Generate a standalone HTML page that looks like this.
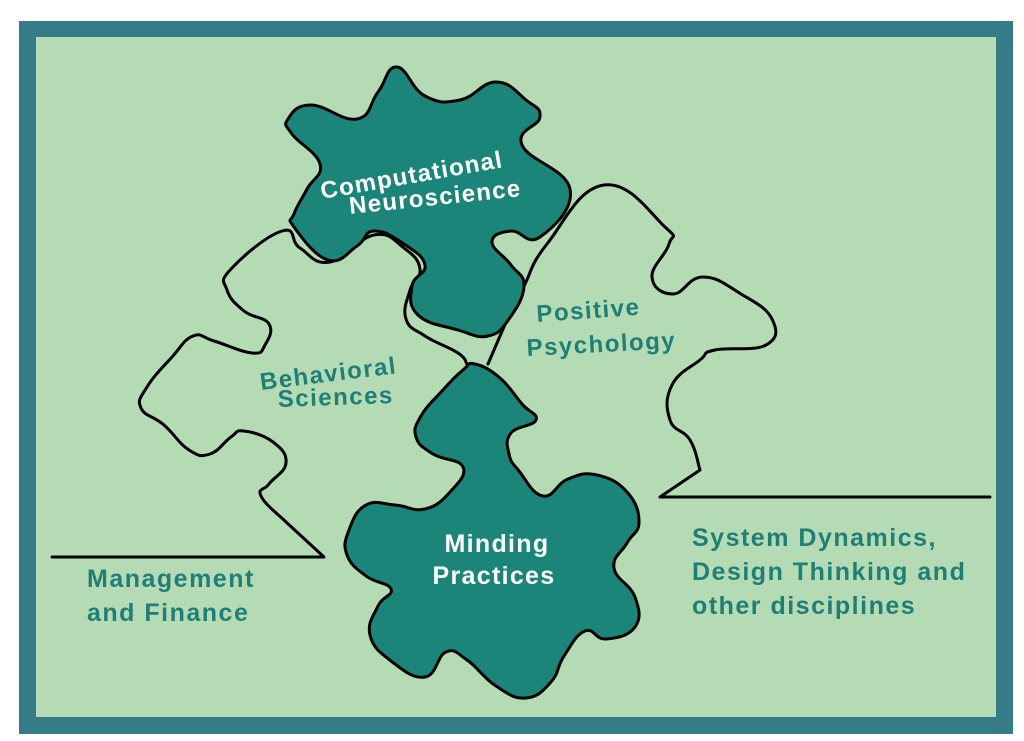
<!DOCTYPE html>
<html><head><meta charset="utf-8"><style>
html,body{margin:0;padding:0;background:#fff;}
svg{display:block}
text{font-family:"Liberation Sans",sans-serif;font-weight:bold;}
</style></head><body>
<svg id="s" width="1024" height="741" viewBox="0 0 1024 741">
<rect x="19" y="21" width="994" height="713" fill="#367c88"/>
<rect x="36" y="37" width="960" height="680" fill="#b5dbb5"/>
<g fill="none" stroke="#000" stroke-width="3" stroke-linejoin="round" stroke-linecap="round">
<polyline class="sm st2" points="52,557 324,557 286,522 261,496 269,484 286,463 273,442 244,431 231,437 210,454 189,450 164,425 141,408 147,387 172,357 193,336 214,341 252,353 265,345 269,324 244,311 227,290 231,269 282,231 300,248 330,262 374,235 404,248 420,269 410,290 406,319 425,336 458,353 467,364"/>
<polyline class="sm en2" points="488,364 511,311 524,286 547,244 604,185 665,227 669,244 652,277 673,294 703,277 741,294 772,319 766,345 715,350 700,360 672,385 670,420 690,440 700,470 660,497 990,497"/>
</g>
<polygon class="sm" points="397,67 425,96 460,100 496,82 526,100 540,117 522,145 570,189 540,237 511,231 492,242 511,265 524,286 509,319 488,336 458,330 418,315 412,286 425,265 404,244 374,231 357,246 328,260 294,227 294,214 307,189 320,164 292,134 288,119 311,105 357,119 378,92"
 fill="#1c857a" stroke="#000" stroke-width="3" stroke-linejoin="round"/>
<polygon class="sm" points="475,364 500,378 522,404 536,420 511,433 509,454 519,471 543,496 568,479 597,475 627,492 639,522 627,543 614,568 635,597 635,627 606,639 585,631 564,656 551,682 526,698 496,686 467,660 446,652 425,677 391,661 370,635 378,606 391,589 366,576 347,555 349,530 366,505 395,505 425,509 450,492 463,467 433,454 416,437 421,416 442,391 463,370"
 fill="#1c857a" stroke="#000" stroke-width="3" stroke-linejoin="round"/>
<g fill="#fff" font-size="24" text-anchor="middle" letter-spacing="1.3">
<text transform="translate(413,183) rotate(-10)">Computational</text>
<text transform="translate(436,205) rotate(-6)">Neuroscience</text>
<text x="497" y="552" font-size="25">Minding</text>
<text x="494" y="584" font-size="25">Practices</text>
</g>
<g fill="#1f7f77" font-size="24" letter-spacing="1.5">
<text transform="translate(261,390) rotate(-7)">Behavioral</text>
<text transform="translate(278,407) rotate(-2)">Sciences</text>
<text transform="translate(537,322) rotate(-4)">Positive</text>
<text transform="translate(527,356) rotate(-3)">Psychology</text>
<g font-size="25" letter-spacing="1.5">
<text x="87" y="587">Management</text>
<text x="87" y="621">and Finance</text>
<text x="692" y="546">System Dynamics,</text>
<text x="692" y="580">Design Thinking and</text>
<text x="692" y="614">other disciplines</text>
</g>
</g>
</svg>
<script>
(function(){
var NS="http://www.w3.org/2000/svg";
document.querySelectorAll(".sm").forEach(function(el){
 var closed=el.tagName.toLowerCase()==="polygon";
 var cls=el.getAttribute("class");
 var st=cls.indexOf("st2")>=0?2:0, en=cls.indexOf("en2")>=0?2:0;
 var p=el.getAttribute("points").trim().split(/\s+/).map(function(s){return s.split(",").map(Number);});
 var n=p.length,d="M"+p[0][0]+","+p[0][1];
 var segs=closed?n:n-1;
 function g(i){if(closed)return p[(i+n)%n];return p[Math.max(0,Math.min(n-1,i))];}
 for(var i=0;i<segs;i++){
  var p0=g(i-1),p1=g(i),p2=g(i+1),p3=g(i+2),t=0.22;
  if(!closed && (i<st || i>=segs-en)){d+=" L"+p2[0]+","+p2[1];continue;}
  if(!closed && i==st && st>0) p0=p1;
  if(!closed && i==segs-en-1 && en>0) p3=p2;
  var c1=[p1[0]+(p2[0]-p0[0])*t,p1[1]+(p2[1]-p0[1])*t];
  var c2=[p2[0]-(p3[0]-p1[0])*t,p2[1]-(p3[1]-p1[1])*t];
  d+=" C"+c1[0].toFixed(1)+","+c1[1].toFixed(1)+" "+c2[0].toFixed(1)+","+c2[1].toFixed(1)+" "+p2[0]+","+p2[1];
 }
 if(closed)d+="Z";
 var path=document.createElementNS(NS,"path");
 path.setAttribute("d",d);
 ["fill","stroke","stroke-width","stroke-linejoin","stroke-linecap"].forEach(function(a){if(el.getAttribute(a))path.setAttribute(a,el.getAttribute(a));});
 el.parentNode.replaceChild(path,el);
});
})();
</script>
</body></html>
